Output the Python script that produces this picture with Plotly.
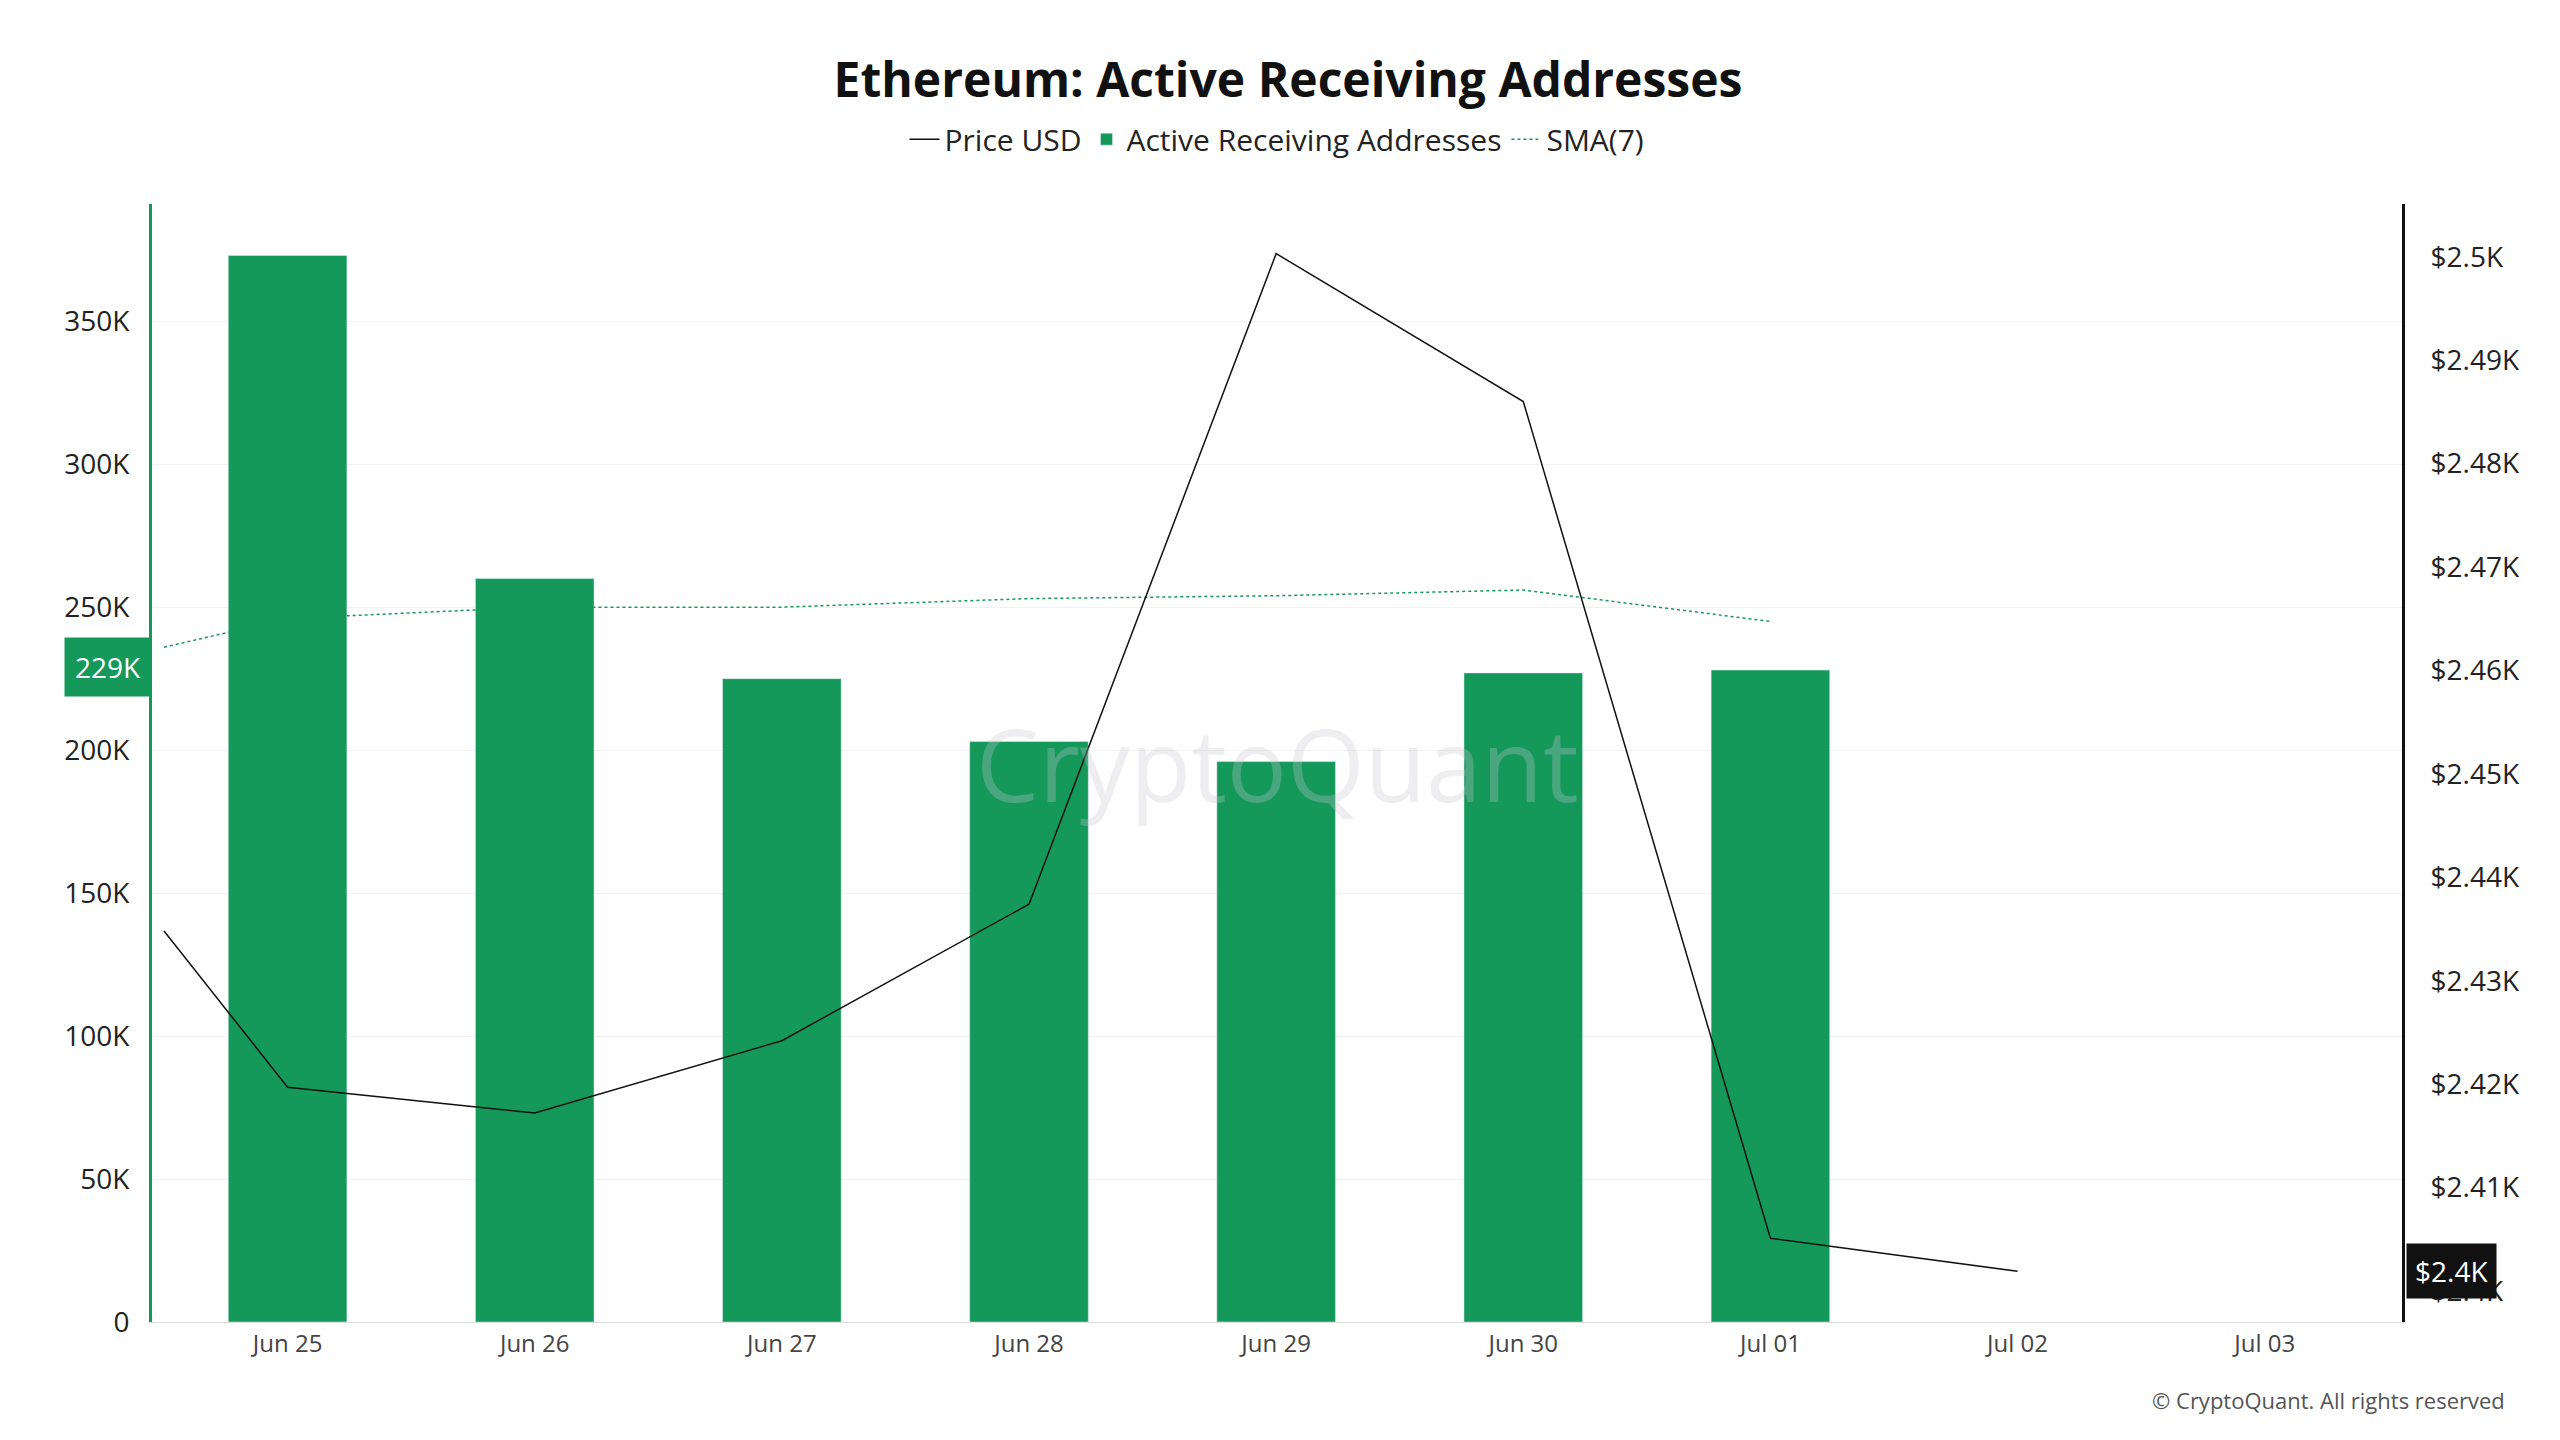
import plotly.graph_objects as go

dates = ["2025-06-25","2025-06-26","2025-06-27","2025-06-28","2025-06-29","2025-06-30","2025-07-01"]
active = [373000, 260000, 225000, 203000, 196000, 227000, 228000]
price_dates = ["2025-06-24 12:00","2025-06-25","2025-06-26","2025-06-27","2025-06-28","2025-06-29","2025-06-30","2025-07-01","2025-07-02"]
price = [2434.8, 2419.7, 2417.2, 2424.2, 2437.4, 2500.3, 2486.0, 2405.1, 2401.9]
sma_dates = ["2025-06-24 12:00"] + dates
sma = [236000, 246000, 250000, 250000, 253000, 254000, 256000, 245000]
tickvals = ["2025-06-25","2025-06-26","2025-06-27","2025-06-28","2025-06-29","2025-06-30","2025-07-01","2025-07-02","2025-07-03"]
ticktext = ["Jun 25","Jun 26","Jun 27","Jun 28","Jun 29","Jun 30","Jul 01","Jul 02","Jul 03"]

green = "#14995b"
fig = go.Figure()
fig.add_trace(go.Scatter(x=price_dates, y=price, name="Price USD", mode="lines",
                         line=dict(color="#111111", width=1.5), yaxis="y2"))
fig.add_trace(go.Bar(x=dates, y=active, name="Active Receiving Addresses",
                     marker_color=green, width=0.48*86400000))
fig.add_trace(go.Scatter(x=sma_dates, y=sma, name="SMA(7)", mode="lines",
                         line=dict(color=green, width=1.5, dash="dot")))

fig.update_layout(
    width=2560, height=1440, paper_bgcolor="white", plot_bgcolor="white",
    font=dict(family="Open Sans", size=28, color="#222"),
    title=dict(text="<b>Ethereum: Active Receiving Addresses</b>", x=0.5, y=0.95,
               xanchor="center", yanchor="middle", font=dict(size=48, color="#111")),
    legend=dict(orientation="h", x=0.5, xanchor="center", y=1.058, yanchor="middle",
                font=dict(size=30), traceorder="normal"),
    margin=dict(l=144, r=166, t=196, b=126),
    bargap=0.5,
    xaxis=dict(type="date", range=["2025-06-24 10:50","2025-07-03 13:20"],
               tickvals=tickvals, ticktext=ticktext, showgrid=False,
               showline=True, linecolor="#ddd", ticks="", tickfont=dict(size=24, color="#444")),
    yaxis=dict(range=[0, 391000], tickvals=[0,50000,100000,150000,200000,250000,300000,350000],
               ticktext=["0","50K","100K","150K","200K","250K","300K","350K"],
               showgrid=True, gridcolor="#f2f2f2", showline=True, linecolor=green, linewidth=3,
               zeroline=False, ticklabelstandoff=14),
    yaxis2=dict(range=[2397, 2505.1], overlaying="y", side="right",
                tickvals=[2400,2410,2420,2430,2440,2450,2460,2470,2480,2490,2500],
                ticktext=["$2.4K","$2.41K","$2.42K","$2.43K","$2.44K","$2.45K","$2.46K","$2.47K","$2.48K","$2.49K","$2.5K"],
                showgrid=False, showline=True, linecolor="#111", linewidth=3, zeroline=False,
                ticklabelstandoff=20),
)
fig.add_annotation(text="CryptoQuant", x=0.5, y=0.5, xref="paper", yref="paper",
                   showarrow=False, font=dict(size=100, color="rgba(200,200,210,0.3)"))
fig.add_annotation(text="229K", x=0, xref="paper", y=229000, yref="y", xanchor="right",
                   showarrow=False, bgcolor=green, font=dict(color="white", size=28), borderpad=10)
fig.add_annotation(text="$2.4K", x=1, xref="paper", y=2401.9, yref="y2", xanchor="left",
                   showarrow=False, bgcolor="#111", font=dict(color="white", size=28), borderpad=8, xshift=4)
fig.add_annotation(text="© CryptoQuant. All rights reserved", x=1, xref="paper", xanchor="right",
                   y=-0.085, yref="paper", showarrow=False, xshift=105, font=dict(size=22, color="#555"))
fig.write_html("out.html")
